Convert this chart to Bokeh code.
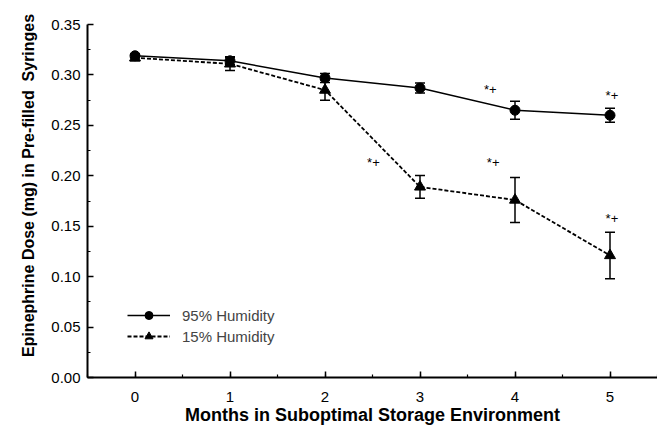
from bokeh.plotting import figure
from bokeh.models import (ColumnDataSource, Whisker, TeeHead, Legend, LegendItem,
                          NumeralTickFormatter, FixedTicker, Range1d)
from bokeh.core.properties import value
from bokeh.embed import file_html
from bokeh.resources import INLINE

# ---- data ----
months = [0, 1, 2, 3, 4, 5]
hum95 = [0.319, 0.314, 0.297, 0.287, 0.265, 0.260]
hum95_err = [0.002, 0.004, 0.0045, 0.005, 0.009, 0.007]
hum15 = [0.317, 0.311, 0.285, 0.189, 0.176, 0.121]
hum15_err = [0.003, 0.0065, 0.010, 0.0113, 0.0224, 0.023]
sig_x = [2.51, 3.74, 3.77, 5.02, 5.02]
sig_y = [0.213, 0.286, 0.213, 0.280, 0.158]
sig_text = ["*+", "*+", "*+", "*+", "*+"]
y_ticks = [0.0, 0.05, 0.10, 0.15, 0.20, 0.25, 0.30, 0.35]
x_ticks = [0, 1, 2, 3, 4, 5]
series_names = ["95% Humidity", "15% Humidity"]
x_title = "Months in Suboptimal Storage Environment"
y_title = "\u00a0" * 7 + "Epinephrine Dose (mg) in Pre-filled\u00a0 Syringes"

FONT = "Liberation Sans"

s95 = ColumnDataSource(dict(x=months, y=hum95,
                            lo=[v - e for v, e in zip(hum95, hum95_err)],
                            hi=[v + e for v, e in zip(hum95, hum95_err)]))
s15 = ColumnDataSource(dict(x=months, y=hum15,
                            lo=[v - e for v, e in zip(hum15, hum15_err)],
                            hi=[v + e for v, e in zip(hum15, hum15_err)]))
ssig = ColumnDataSource(dict(x=sig_x, y=sig_y, t=sig_text))

p = figure(frame_width=570, frame_height=353, output_backend="svg",
           toolbar_location=None, x_range=Range1d(-0.5, 5.5), y_range=Range1d(0, 0.35),
           min_border_left=87, min_border_top=24, min_border_right=0, min_border_bottom=10)
p.outline_line_color = None
p.xgrid.visible = False
p.ygrid.visible = False
p.background_fill_color = "white"

# axes
for ax in (p.xaxis[0], p.yaxis[0]):
    ax.axis_line_width = 2
    ax.axis_line_color = "black"
    ax.major_tick_line_color = "black"
    ax.minor_tick_line_color = "black"
    ax.major_tick_line_width = 1.5
    ax.minor_tick_line_width = 1.2
    ax.major_tick_out = 0
    ax.major_tick_in = 6
    ax.minor_tick_out = 0
    ax.minor_tick_in = 3
    ax.major_label_text_font = FONT
    ax.major_label_text_font_size = "15px"
    ax.major_label_text_color = "black"
    ax.axis_label_text_font = FONT
    ax.axis_label_text_font_style = "bold"
    ax.axis_label_text_color = "black"

p.xaxis.ticker = FixedTicker(ticks=x_ticks, minor_ticks=[-0.5 + 0.5 * i for i in range(13)])
p.yaxis.ticker = FixedTicker(ticks=y_ticks, minor_ticks=[0.025 * i for i in range(15)])
p.yaxis.formatter = NumeralTickFormatter(format="0.00")
p.xaxis.axis_label = x_title
p.yaxis.axis_label = y_title
p.xaxis.axis_label_text_font_size = "18px"
p.yaxis.axis_label_text_font_size = "16px"
p.xaxis.major_label_standoff = 14
p.yaxis.major_label_standoff = 7
p.xaxis.axis_label_standoff = 0
p.yaxis.axis_label_standoff = 11

# error bars
for src in (s95, s15):
    w = Whisker(source=src, base="x", upper="hi", lower="lo", dimension="height",
                line_width=1.5, line_color="black",
                upper_head=TeeHead(size=10, line_width=1.5, line_color="black"),
                lower_head=TeeHead(size=10, line_width=1.5, line_color="black"))
    p.add_layout(w)

l95 = p.line("x", "y", source=s95, line_width=1.5, line_color="black")
m95 = p.scatter("x", "y", source=s95, marker="circle", size=10, color="black")
l15 = p.line("x", "y", source=s15, line_width=1.8, line_color="black", line_dash="4 2")
m15 = p.scatter("x", "y", source=s15, marker="triangle", size=11, color="black")

p.text("x", "y", text="t", source=ssig, text_font=value(FONT), text_font_size="13px",
       text_align="center", text_baseline="middle", text_color="black")

legend = Legend(items=[LegendItem(label=series_names[0], renderers=[l95, m95]),
                       LegendItem(label=series_names[1], renderers=[l15, m15])],
                location=(40, 31), padding=0, margin=0, spacing=1,
                glyph_width=43, glyph_height=20, label_standoff=12,
                label_text_font=FONT, label_text_font_size="15px",
                border_line_color=None, background_fill_alpha=0)
p.add_layout(legend)

open("out.html", "w").write(file_html(p, INLINE))
